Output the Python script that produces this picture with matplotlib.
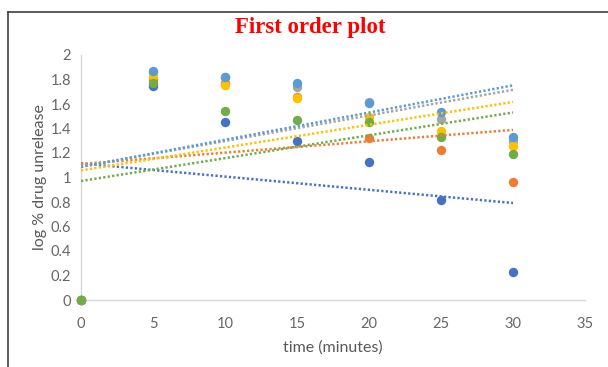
import matplotlib.pyplot as plt
from matplotlib.lines import Line2D
import numpy as np

# sampling times (minutes)
time = [0, 5, 10, 15, 20, 25, 30]

# log % drug unreleased for each formulation
f1 = [0, 1.75, 1.455, 1.30, 1.125, 0.815, 0.23]
f2 = [0, 1.80, 1.77, 1.66, 1.325, 1.225, 0.965]
f3 = [0, 1.86, 1.82, 1.74, 1.62, 1.475, 1.30]
f4 = [0, 1.83, 1.755, 1.65, 1.49, 1.38, 1.257]
f5 = [0, 1.87, 1.82, 1.77, 1.61, 1.537, 1.328]
f6 = [0, 1.77, 1.54, 1.47, 1.455, 1.333, 1.19]

series = [f1, f2, f3, f4, f5, f6]
colors = ['#4472C4', '#ED7D31', '#A5A5A5', '#FFC000', '#5B9BD5', '#70AD47']

fig = plt.figure(figsize=(6.08, 3.67), dpi=100)
ax = fig.add_axes([81 / 608, 1 - 300 / 367, (585 - 81) / 608, (300 - 55) / 367])

x = np.array(time, dtype=float)
for ys, c in zip(series, colors):
    ax.scatter(x, ys, s=46, color=c, zorder=3, clip_on=False, linewidths=0)

# linear trendlines
for ys, c in zip(series, colors):
    k, b = np.polyfit(x, ys, 1)
    xt = np.array([0, 30])
    ax.plot(xt, k * xt + b, color=c, linewidth=1.8,
            linestyle=(0, (0.9, 0.9)), zorder=4)

ax.set_xlim(0, 35)
ax.set_ylim(0, 2)
ax.set_xticks(range(0, 36, 5))
ax.set_yticks([0, 0.2, 0.4, 0.6, 0.8, 1, 1.2, 1.4, 1.6, 1.8, 2])
ax.set_yticklabels(['0', '0.2', '0.4', '0.6', '0.8', '1', '1.2', '1.4', '1.6', '1.8', '2'])

for side in ['top', 'right']:
    ax.spines[side].set_visible(False)
for side in ['left', 'bottom']:
    ax.spines[side].set_color('#D9D9D9')
    ax.spines[side].set_linewidth(1.0)

ax.tick_params(length=0, labelsize=10.5, labelcolor='#666666')
ax.tick_params(axis='x', pad=12)
ax.tick_params(axis='y', pad=7)
for lab in ax.get_xticklabels() + ax.get_yticklabels():
    lab.set_fontfamily('Lato')

ax.set_xlabel('time (minutes)', fontsize=11.5, color='#595959', family='Lato', labelpad=7)
ax.set_ylabel('log % drug unrelease', fontsize=11.5, color='#595959', family='Lato', labelpad=3)

fig.text(0.51, 1 - 27 / 367, 'First order plot', color='red', fontsize=16.5,
         fontweight='bold', family='Liberation Serif', ha='center', va='center')

# frame around the chart
fig.add_artist(Line2D([8 / 608, 8 / 608], [0, 1 - 12 / 367], color='#404040', linewidth=1.2))
fig.add_artist(Line2D([8 / 608, 1], [1 - 12 / 367, 1 - 12 / 367], color='#404040', linewidth=1.2))

fig.savefig('out.png', dpi=100)
